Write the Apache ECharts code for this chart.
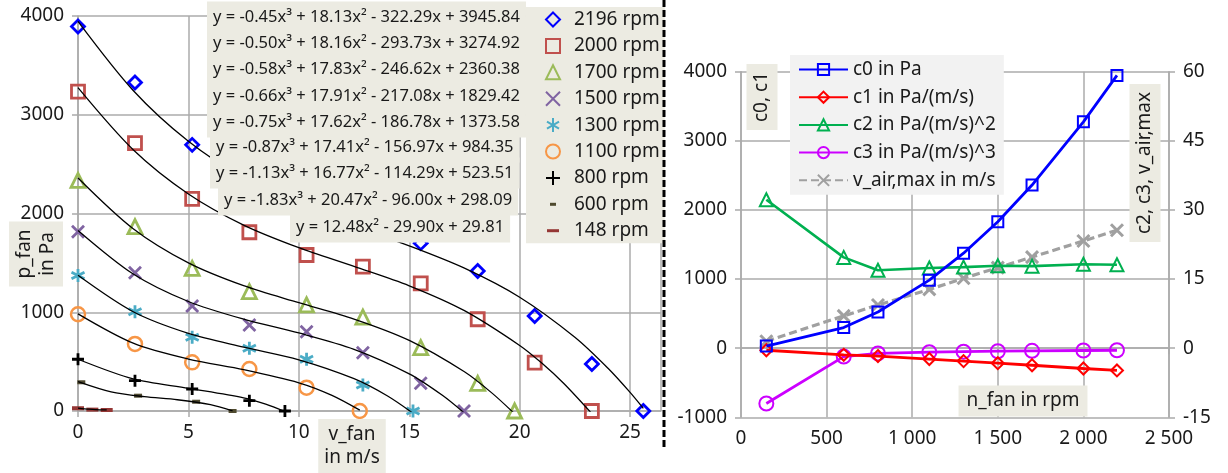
<!DOCTYPE html>
<html>
<head>
<meta charset="utf-8">
<script src="https://cdn.jsdelivr.net/npm/echarts@6/dist/echarts.min.js"></script>
<style>
  html, body { margin: 0; padding: 0; background: #fff; }
  #chart { width: 1228px; height: 473px; }
</style>
</head>
<body>
<div id="chart"></div>
<script>
// left chart: measured fan curves (v_fan in m/s, p_fan in Pa)
const speeds = ['2196 rpm', '2000 rpm', '1700 rpm', '1500 rpm', '1300 rpm', '1100 rpm', '800 rpm', '600 rpm', '148 rpm']
const pts2196 = [[0, 3893], [2.58, 3326], [5.17, 2695], [7.76, 2330], [10.35, 2060], [12.9, 1840], [15.52, 1700], [18.1, 1418], [20.68, 962], [23.27, 476], [25.6, 0]]
const pts2000 = [[0, 3235], [2.58, 2712], [5.17, 2148], [7.76, 1810], [10.35, 1580], [12.9, 1462], [15.52, 1293], [18.1, 929], [20.68, 489], [23.27, 0]]
const pts1700 = [[0, 2335], [2.58, 1867], [5.17, 1445], [7.76, 1209], [10.35, 1074], [12.9, 950], [15.52, 641], [18.1, 280], [19.77, 0]]
const pts1500 = [[0, 1816], [2.58, 1401], [5.17, 1064], [7.76, 871], [10.35, 803], [12.9, 591], [15.52, 281], [17.48, 0]]
const pts1300 = [[0, 1371], [2.58, 1006], [5.17, 746], [7.76, 635], [10.35, 524], [12.9, 263], [15.17, 0]]
const pts1100 = [[0, 980], [2.58, 679], [5.17, 493], [7.76, 425], [10.35, 236], [12.76, 0]]
const pts800 = [[0, 524], [2.58, 307], [5.17, 223], [7.76, 105], [9.37, 0]]
const pts600 = [[0.15, 291], [2.72, 155], [5.35, 94], [7.0, 0]]
const pts148 = [[0, 28], [0.65, 14], [1.3, 10]]

// trend lines
const fit2196 = [[0, 3946], [2.5, 3246], [5, 2731], [7.5, 2359], [10, 2086], [12.5, 1871], [15, 1672], [17.5, 1446], [20, 1152], [22.5, 747], [24, 433], [25, 189], [25.6, 27]]
const fit2000 = [[0, 3275], [2.5, 2646], [5, 2198], [7.5, 1883], [10, 1654], [12.5, 1464], [15, 1268], [17.5, 1016], [20, 664], [21, 485], [22, 278], [23.27, -27]]
const fit1700 = [[0, 2360], [2.5, 1846], [5, 1500], [7.5, 1269], [10, 1097], [12.5, 931], [15, 715], [17.5, 397], [18.75, 181], [19.77, -28]]
const fit1500 = [[0, 1829], [2.5, 1388], [5, 1109], [7.5, 930], [10, 790], [12.5, 625], [15, 376], [16.5, 159], [17.48, -18]]
const fit1300 = [[0, 1374], [2.5, 1005], [5, 786], [7.5, 647], [10, 518], [12.5, 327], [14, 154], [15.17, -23]]
const fit1100 = [[0, 984], [2.5, 687], [5, 526], [7.5, 419], [10, 286], [11.5, 159], [12.76, 9]]
const fit800 = [[0, 524], [2.5, 325], [5, 230], [7.5, 133], [8.5, 70], [9.37, -5]]
const fit600 = [[0, 298], [1.5, 194], [3, 145], [4.5, 114], [6, 64], [7, 1]]
const fit148 = [[0, 30], [0.5, 18], [1, 12], [1.3, 12]]

const equations = [
  'y = -0.45x³ + 18.13x² - 322.29x + 3945.84',
  'y = -0.50x³ + 18.16x² - 293.73x + 3274.92',
  'y = -0.58x³ + 17.83x² - 246.62x + 2360.38',
  'y = -0.66x³ + 17.91x² - 217.08x + 1829.42',
  'y = -0.75x³ + 17.62x² - 186.78x + 1373.58',
  'y = -0.87x³ + 17.41x² - 156.97x + 984.35',
  'y = -1.13x³ + 16.77x² - 114.29x + 523.51',
  'y = -1.83x³ + 20.47x² - 96.00x + 298.09',
  'y = 12.48x² - 29.90x + 29.81'
]

// right chart: coefficients over fan speed
const nFan = [148, 600, 800, 1100, 1300, 1500, 1700, 2000, 2196]
const c0 = [30, 298, 524, 984, 1374, 1829, 2360, 3275, 3946]
const c1 = [-30, -96, -114, -157, -187, -217, -247, -294, -322]
const c2 = [32.2, 19.7, 16.9, 17.4, 17.6, 17.9, 17.8, 18.2, 18.1]
const c3 = [-12.0, -1.83, -1.13, -0.87, -0.75, -0.66, -0.58, -0.50, -0.45]
const vAirMax = [1.5, 7.0, 9.37, 12.76, 15.17, 17.48, 19.77, 23.27, 25.6]
const rightNames = ['c0 in Pa', 'c1 in Pa/(m/s)', 'c2 in Pa/(m/s)^2', 'c3 in Pa/(m/s)^3', 'v_air,max in m/s']

const FONT = '"Noto Sans", "Liberation Sans", sans-serif'
const TXT = '#1a1a1a'
const GRIDC = '#ababab'
const BOX = '#ecebe2'

const PATH_X = 'path://M0,0L10,10M10,0L0,10'
const PATH_AST = 'path://M5,0L5,10M0.7,2.5L9.3,7.5M0.7,7.5L9.3,2.5'
const PATH_PLUS = 'path://M5,0L5,10M0,5L10,5'
// legend dashes: the two moveTo points keep a 14x14 box so the dash stays small
const ICON_DASH_S = 'path://M0,0M14,14M4,5.5L10,5.5L10,8.5L4,8.5Z'
const ICON_DASH_L = 'path://M0,0M14,14M1,5.5L13,5.5L13,8.5L1,8.5Z'

const leftPts = [pts2196, pts2000, pts1700, pts1500, pts1300, pts1100, pts800, pts600, pts148]
const leftFits = [fit2196, fit2000, fit1700, fit1500, fit1300, fit1100, fit800, fit600, fit148]
const leftStyle = [
  { symbol: 'diamond', size: 13, color: '#0000ff', hollow: true, bw: 2.8 },
  { symbol: 'rect', size: 13, color: '#c0504d', hollow: true, bw: 2.8 },
  { symbol: 'triangle', size: 14, color: '#9bbb59', hollow: true, bw: 2.8 },
  { symbol: PATH_X, size: 12, color: '#8064a2', hollow: true, bw: 2.8 },
  { symbol: PATH_AST, size: 13, color: '#4bacc6', hollow: true, bw: 2.8 },
  { symbol: 'circle', size: 14, color: '#f79646', hollow: true, bw: 2.5 },
  { symbol: PATH_PLUS, size: 12, color: '#000000', hollow: true, bw: 2.8 },
  { symbol: 'rect', size: [8, 4], color: '#4f4a2f', hollow: false, icon: ICON_DASH_S },
  { symbol: 'rect', size: [12, 4], color: '#953735', hollow: false, icon: ICON_DASH_L }
]

const chart = echarts.init(document.getElementById('chart'))

const series = []
leftFits.forEach((d, i) => {
  series.push({
    name: 'fit ' + speeds[i],
    type: 'line',
    xAxisIndex: 0,
    yAxisIndex: 0,
    data: d,
    smooth: 0.3,
    showSymbol: false,
    silent: true,
    lineStyle: { color: '#000', width: 1.3 },
    z: 3
  })
})
leftPts.forEach((d, i) => {
  const s = leftStyle[i]
  series.push({
    name: speeds[i],
    type: 'scatter',
    xAxisIndex: 0,
    yAxisIndex: 0,
    data: d,
    symbol: s.symbol,
    symbolSize: s.size,
    itemStyle: s.hollow
      ? { color: 'rgba(255,255,255,0)', borderColor: s.color, borderWidth: s.bw, opacity: 1 }
      : { color: s.color, opacity: 1 },
    z: 2
  })
})

const rightData = [c0, c1, c2, c3, vAirMax]
const rightStyle = [
  { color: '#0000ff', symbol: 'rect', size: 11, axis: 1, lw: 2.8 },
  { color: '#ff0000', symbol: 'diamond', size: 12, axis: 1, lw: 2.8 },
  { color: '#00b050', symbol: 'triangle', size: 13, axis: 2, lw: 2.6 },
  { color: '#cc00ff', symbol: 'circle', size: 14, axis: 2, lw: 2.8 },
  { color: '#a0a0a0', symbol: PATH_X, size: 12, axis: 2, lw: 3.2, dashed: true }
]
rightData.forEach((vals, i) => {
  const s = rightStyle[i]
  series.push({
    name: rightNames[i],
    type: 'line',
    xAxisIndex: 1,
    yAxisIndex: s.axis,
    data: nFan.map((n, k) => [n, vals[k]]),
    symbol: s.symbol,
    symbolSize: s.size,
    showAllSymbol: true,
    lineStyle: { color: s.color, width: s.lw, type: s.dashed ? [8, 4] : 'solid' },
    itemStyle: { color: 'rgba(255,255,255,0)', borderColor: s.color, borderWidth: s.dashed ? 3 : 2 },
    z: 5 - i
  })
})

const axisLbl = { color: TXT, fontSize: 19, fontFamily: FONT }
const gridLine = { show: true, lineStyle: { color: GRIDC, width: 1.5 } }
const axLine = { show: true, lineStyle: { color: GRIDC, width: 1.5 } }
const tick = { show: true, inside: false, length: 6, lineStyle: { color: GRIDC, width: 1.5 } }
const plain = v => String(v)
const thousands = v => String(v).replace(/\B(?=(\d{3})+(?!\d))/g, ' ')

const graphic = []
graphic.push({
  type: 'line', z: 100,
  shape: { x1: 664, y1: 0, x2: 664, y2: 447 },
  style: { stroke: '#000', lineWidth: 3, lineDash: [7, 3] }
})
const eqPos = [[207, 17], [207, 43], [207, 69], [207, 96], [207, 122], [210, 147], [210, 173], [218, 200], [290, 227]]
equations.forEach((t, i) => {
  graphic.push({
    type: 'text', z: 100,
    x: eqPos[i][0], y: eqPos[i][1],
    style: {
      text: t, font: '16.5px ' + FONT, fill: TXT,
      verticalAlign: 'middle', align: 'left',
      backgroundColor: BOX, padding: [7, 6, 7, 6]
    }
  })
})
function boxText(text, x, y, rot, pad) {
  return {
    type: 'text', z: 100, x: x, y: y, rotation: rot,
    style: {
      text: text, font: '19px ' + FONT, fill: TXT, lineHeight: 23,
      align: 'center', verticalAlign: 'middle',
      backgroundColor: BOX, padding: pad
    }
  }
}
graphic.push(boxText('p_fan\nin Pa', 36, 254, Math.PI / 2, [4, 8, 4, 8]))
graphic.push(boxText('v_fan\nin m/s', 352, 446, 0, [4, 6, 4, 6]))
graphic.push(boxText('c0, c1', 762, 97, Math.PI / 2, [4, 8, 4, 8]))
graphic.push(boxText('c2, c3, v_air,max', 1145, 163, Math.PI / 2, [4, 8, 4, 8]))
graphic.push(boxText('n_fan in rpm', 1023, 401, 0, [4, 8, 4, 8]))

chart.setOption({
  animation: false,
  textStyle: { fontFamily: FONT },
  grid: [
    { left: 78, top: 16, width: 583, height: 395, outerBoundsMode: 'none' },
    { left: 741, top: 71.7, width: 428, height: 345.6, outerBoundsMode: 'none' }
  ],
  legend: [
    {
      data: speeds.map((n, i) => leftStyle[i].icon ? { name: n, icon: leftStyle[i].icon } : n),
      orient: 'vertical',
      left: 526, top: 7,
      itemWidth: 14, itemHeight: 14, itemGap: 7.4,
      padding: [3, 5, 3, 19],
      backgroundColor: BOX,
      textStyle: { color: TXT, fontSize: 19, fontFamily: FONT, padding: [0, 0, 0, 9] },
      selectedMode: false
    },
    {
      data: rightNames,
      orient: 'vertical',
      left: 790, top: 55,
      itemWidth: 49, itemHeight: 14, itemGap: 8.7,
      padding: [5, 8, 5, 8],
      backgroundColor: '#f2f2f2',
      textStyle: { color: TXT, fontSize: 19, fontFamily: FONT },
      selectedMode: false
    }
  ],
  xAxis: [
    {
      type: 'value', gridIndex: 0, min: 0, max: 26.4, interval: 5,
      axisLine: axLine, axisTick: tick, splitLine: gridLine,
      axisLabel: Object.assign({ margin: 12, showMaxLabel: false, formatter: plain }, axisLbl)
    },
    {
      type: 'value', gridIndex: 1, min: 0, max: 2500, interval: 500,
      axisLine: axLine, axisTick: tick, splitLine: gridLine,
      axisLabel: Object.assign({ margin: 12, formatter: thousands }, axisLbl)
    }
  ],
  yAxis: [
    {
      type: 'value', gridIndex: 0, min: 0, max: 4000, interval: 1000,
      axisLine: axLine, axisTick: tick, splitLine: gridLine,
      axisLabel: Object.assign({ margin: 14, formatter: plain }, axisLbl)
    },
    {
      type: 'value', gridIndex: 1, position: 'left', min: -1000, max: 4000, interval: 1000,
      axisLine: axLine, axisTick: tick, splitLine: gridLine,
      axisLabel: Object.assign({ margin: 14, formatter: plain }, axisLbl)
    },
    {
      type: 'value', gridIndex: 1, position: 'right', min: -15, max: 60, interval: 15,
      axisLine: axLine, axisTick: tick, splitLine: { show: false },
      axisLabel: Object.assign({ margin: 14, formatter: plain }, axisLbl)
    }
  ],
  graphic: graphic,
  series: series
})
</script>
</body>
</html>
